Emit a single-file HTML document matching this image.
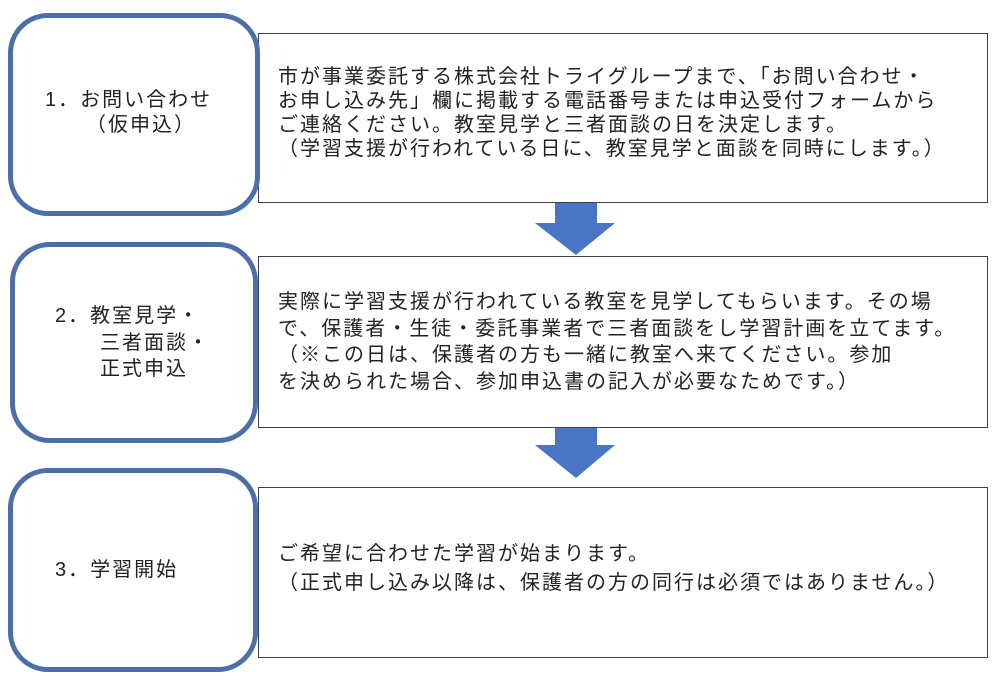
<!DOCTYPE html>
<html><head><meta charset="utf-8"><style>
body{margin:0;width:1000px;height:680px;background:#fff;position:relative;overflow:hidden;font-family:"Liberation Sans","Noto Sans CJK JP",sans-serif;color:#222;}
.r{position:absolute;box-sizing:border-box;border:5px solid #4d6fa8;border-radius:40px;background:#fff;}
.b{position:absolute;box-sizing:border-box;border:1.5px solid #3a3f48;background:#fff;}
.t{position:absolute;font-size:20px;letter-spacing:2px;line-height:26px;white-space:nowrap;}
svg{position:absolute;left:0;top:0}
</style></head><body>
<div class="b" style="left:258px;top:33px;width:730px;height:170px"></div>
<div class="b" style="left:258px;top:256px;width:730px;height:172px"></div>
<div class="b" style="left:258px;top:487px;width:730px;height:171px"></div>
<div class="r" style="left:8px;top:13px;width:252px;height:203px"></div>
<div class="r" style="left:10px;top:242px;width:248px;height:201px"></div>
<div class="r" style="left:8px;top:468px;width:250px;height:204px"></div>
<svg width="1000" height="680"><polygon points="555,203 597,203 597,223 615,223 576,255 535,223 555,223" fill="#4a75c4"/><polygon points="555,428 597,428 597,445 615,445 576,478 535,445 555,445" fill="#4a75c4"/></svg>
<div class="t" style="left:45px;top:87px">1．お問い合わせ</div>
<div class="t" style="left:86px;top:112px">（仮申込）</div>
<div class="t" style="left:55px;top:303px">2．教室見学・</div>
<div class="t" style="left:100px;top:330px">三者面談・</div>
<div class="t" style="left:100px;top:356px">正式申込</div>
<div class="t" style="left:55px;top:557px">3．学習開始</div>
<div class="t" style="left:278px;top:65px;line-height:24px">市が事業委託する株式会社トライグループまで、「お問い合わせ・<br>お申し込み先」欄に掲載する電話番号または申込受付フォームから<br>ご連絡ください。教室見学と三者面談の日を決定します。<br>（学習支援が行われている日に、教室見学と面談を同時にします。）</div>
<div class="t" style="left:278px;top:289px;line-height:26.5px">実際に学習支援が行われている教室を見学してもらいます。その場<br>で、保護者・生徒・委託事業者で三者面談をし学習計画を立てます。<br>（※この日は、保護者の方も一緒に教室へ来てください。参加<br>を決められた場合、参加申込書の記入が必要なためです。）</div>
<div class="t" style="left:278px;top:540px;line-height:29px">ご希望に合わせた学習が始まります。<br>（正式申し込み以降は、保護者の方の同行は必須ではありません。）</div>
</body></html>
